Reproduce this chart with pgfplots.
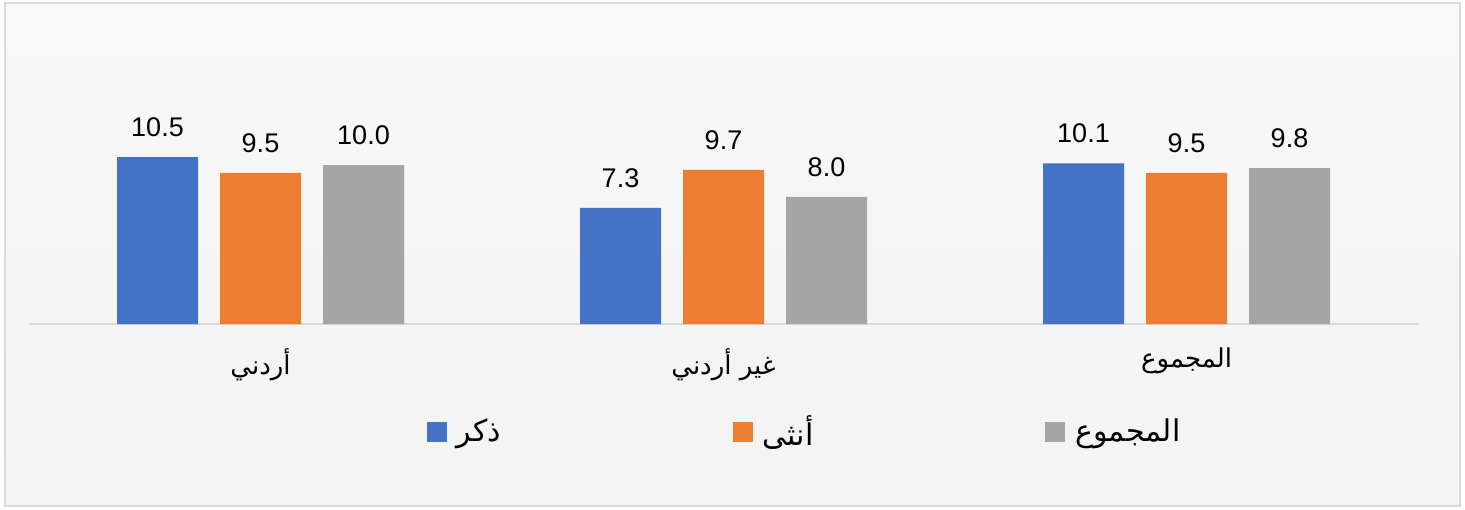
\documentclass[border=0pt]{standalone}
\usepackage{fontspec}
\setmainfont{Liberation Sans}
\newfontfamily\arabicfont[Script=Arabic]{DejaVu Sans}
\TeXXeTstate=1
\usepackage{pgfplots}
\pgfplotsset{compat=1.18}
\definecolor{cblue}{HTML}{4472C4}
\definecolor{corange}{HTML}{ED7D31}
\definecolor{cgray}{HTML}{A5A5A5}
\definecolor{cline}{HTML}{D9D9D9}
\definecolor{bgtop}{HTML}{F8F8F8}
\definecolor{bgbot}{HTML}{F3F3F3}
\begin{document}
\begin{tikzpicture}
\useasboundingbox (-14.5pt,-92.5pt) rectangle (718pt,162pt);
\shade[top color=bgtop, bottom color=bgbot] (-12pt,-91pt) rectangle (715.5pt,160.5pt);
\draw[cline, line width=1pt] (-12pt,-91pt) rectangle (715.5pt,160.5pt);
\begin{axis}[
  at={(0pt,0pt)}, anchor=south west,
  scale only axis, width=694.5pt, height=143.1pt,
  xmin=-0.5, xmax=2.5, ymin=0, ymax=18,
  ybar=11pt, bar width=40.5pt,
  axis x line*=bottom,
  hide y axis,
  x axis line style={draw=cline, line width=1pt, -},
  xtick={0,1,2},
  xticklabels={{\arabicfont\beginR أردني\endR},{\arabicfont\beginR غير أردني\endR},{\arabicfont\beginR المجموع\endR}},
  xticklabel style={font=\fontsize{13}{16}\selectfont, yshift=-8.5pt},
  major tick length=0pt,
  nodes near coords,
  every node near coord/.append style={font=\fontsize{13.5}{16}\selectfont, inner sep=0pt, yshift=10pt, text=black},
  legend columns=3,
  legend image code/.code={\fill[#1] (0pt,-5pt) rectangle (10pt,5pt);},
  legend style={draw=none, fill=none, at={(0.559,0)}, anchor=center, yshift=-54pt,
    font=\fontsize{15}{18}\selectfont,
    /tikz/every odd column/.append style={column sep=3pt},
    /tikz/every even column/.append style={column sep=114pt}},
  /pgf/number format/fixed,
  /pgf/number format/fixed zerofill,
  /pgf/number format/precision=1,
  /pgf/number format/assume math mode=true,
]
\addplot[fill=cblue, draw=none] coordinates {(0,10.5) (1,7.3) (2,10.1)};
\addlegendentry{\arabicfont\beginR ذكر\endR}
\addplot[fill=corange, draw=none] coordinates {(0,9.5) (1,9.7) (2,9.5)};
\addlegendentry{\arabicfont\beginR أنثى\endR}
\addplot[fill=cgray, draw=none] coordinates {(0,10.0) (1,8.0) (2,9.8)};
\addlegendentry{\arabicfont\beginR المجموع\endR}
\end{axis}
\end{tikzpicture}
\end{document}
